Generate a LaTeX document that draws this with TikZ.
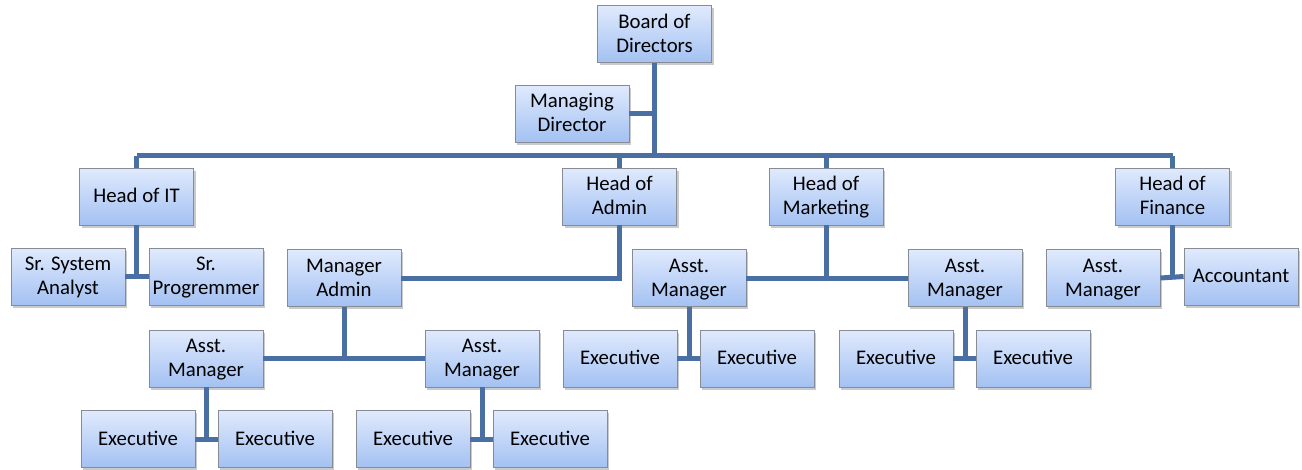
\documentclass[tikz,border=0pt]{standalone}
\usepackage{fontspec}
\setmainfont{Carlito}
\usetikzlibrary{shadows,shadings}
\definecolor{linec}{RGB}{74,112,163}
\definecolor{boxtop}{RGB}{224,234,253}
\definecolor{boxbot}{RGB}{163,193,242}
\definecolor{boxline}{RGB}{135,140,148}
\newcommand{\lnst}{\rule[-5.8pt]{0pt}{24pt}}
\tikzset{
  orgbox/.style={rectangle, draw=boxline, line width=0.8pt, top color=boxtop, bottom color=boxbot,
    minimum width=114pt, minimum height=57pt, inner sep=1pt, align=center,
    font=\fontsize{20.8}{24}\selectfont,
    drop shadow={shadow xshift=2pt, shadow yshift=-2.5pt, opacity=0.35, fill=black!60}},
  conn/.style={draw=linec, line width=5pt, line join=miter}
}
\begin{document}
\begin{tikzpicture}[x=1pt,y=-1pt]
\useasboundingbox (0,0) rectangle (1302,469);
% nodes
\node[orgbox] (bod) at (654.5,34) {\lnst Board of\\\lnst Directors};
\node[orgbox] (md) at (572,113.5) {\lnst Managing\\\lnst Director};
\node[orgbox] (hit) at (136.5,196.5) {\lnst Head of IT};
\node[orgbox] (had) at (619.5,196.5) {\lnst Head of\\\lnst Admin};
\node[orgbox] (hmk) at (826,196.5) {\lnst Head of\\\lnst Marketing};
\node[orgbox] (hfi) at (1172.5,196.5) {\lnst Head of\\\lnst Finance};
\node[orgbox] (ssa) at (68,276.5) {\lnst Sr. System\\\lnst Analyst};
\node[orgbox] (spg) at (206,276.5) {\lnst Sr.\\\lnst Progremmer};
\node[orgbox] (ma) at (344,278) {\lnst Manager\\\lnst Admin};
\node[orgbox] (am1) at (689,278) {\lnst Asst.\\\lnst Manager};
\node[orgbox] (am2) at (965,278) {\lnst Asst.\\\lnst Manager};
\node[orgbox] (am3) at (1103,278) {\lnst Asst.\\\lnst Manager};
\node[orgbox] (acc) at (1241,276.5) {\lnst Accountant};
\node[orgbox] (ama) at (206,358.5) {\lnst Asst.\\\lnst Manager};
\node[orgbox] (amb) at (482,358.5) {\lnst Asst.\\\lnst Manager};
\node[orgbox] (e1) at (620,358.5) {\lnst Executive};
\node[orgbox] (e2) at (757,358.5) {\lnst Executive};
\node[orgbox] (e3) at (896,358.5) {\lnst Executive};
\node[orgbox] (e4) at (1033,358.5) {\lnst Executive};
\node[orgbox] (e5) at (138,439) {\lnst Executive};
\node[orgbox] (e6) at (275,439) {\lnst Executive};
\node[orgbox] (e7) at (413,439) {\lnst Executive};
\node[orgbox] (e8) at (550,439) {\lnst Executive};
% connectors
\coordinate (barL) at (136.5,155.5);
\coordinate (barR) at (1172.5,155.5);
\draw[conn] (bod.south) -- (bod.south |- barL);
\draw[conn] (md.east) -- (md.east -| bod.south);
\draw[conn] (barL) -- (barR);
\draw[conn] (hit.north) -- (hit.north |- barL);
\draw[conn] (had.north) -- (had.north |- barL);
\draw[conn] (hmk.north) -- (hmk.north |- barL);
\draw[conn] (hfi.north) -- (hfi.north |- barL);
% IT
\draw[conn] (hit.south) -- (hit.south |- ssa.east);
\draw[conn] (ssa.east) -- (spg.west);
% Admin
\draw[conn] (had.south) -- (had.south |- ma.east) -- (ma.east);
\draw[conn] (ma.south) -- (ma.south |- ama.east);
\draw[conn] (ama.east) -- (amb.west);
\draw[conn] (ama.south) -- (ama.south |- e5.east);
\draw[conn] (e5.east) -- (e6.west);
\draw[conn] (amb.south) -- (amb.south |- e7.east);
\draw[conn] (e7.east) -- (e8.west);
% Marketing
\draw[conn] (hmk.south) -- (hmk.south |- am1.east);
\draw[conn] (am1.east) -- (am2.west);
\draw[conn] (am1.south) -- (am1.south |- e1.east);
\draw[conn] (e1.east) -- (e2.west);
\draw[conn] (am2.south) -- (am2.south |- e3.east);
\draw[conn] (e3.east) -- (e4.west);
% Finance
\draw[conn] (hfi.south) -- (hfi.south |- am3.east);
\draw[conn] (am3.east) -- (acc.west);
\end{tikzpicture}
\end{document}
